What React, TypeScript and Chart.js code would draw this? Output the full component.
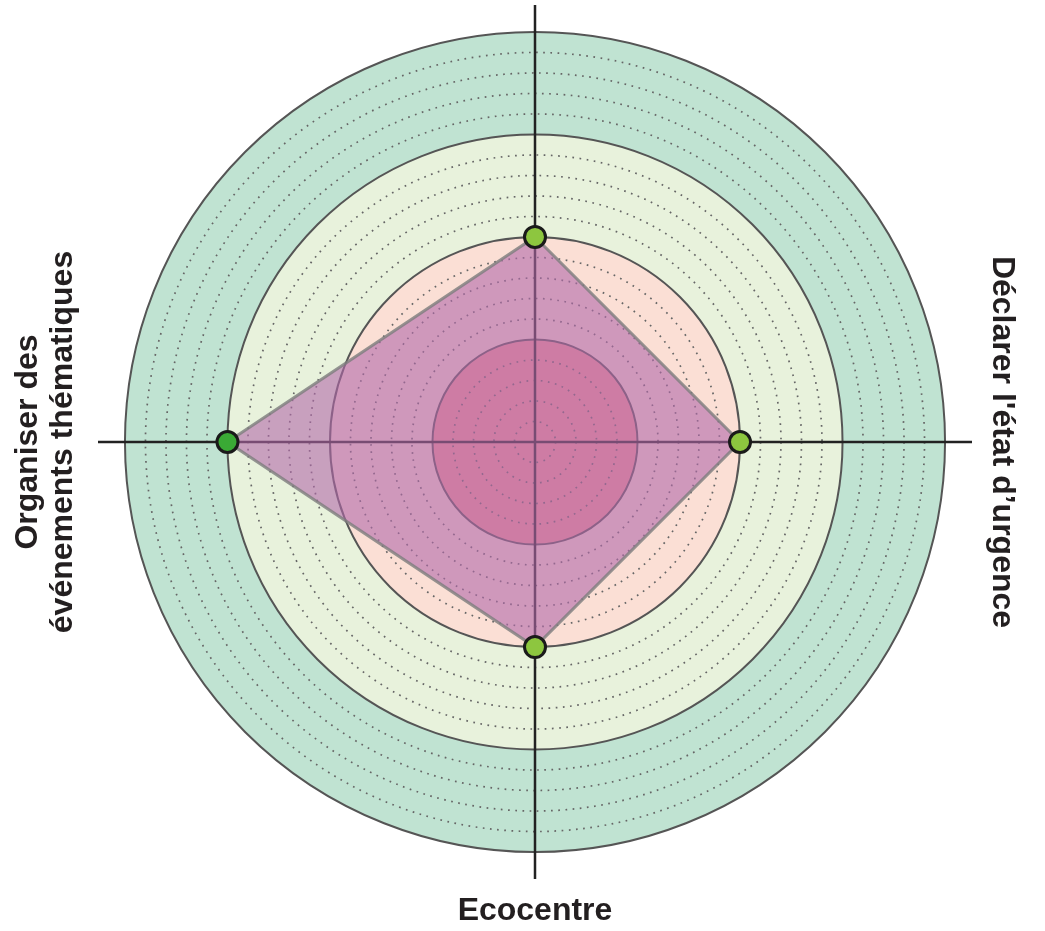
import React, { useEffect, useRef } from "react";
import { Chart, registerables } from "chart.js";

Chart.register(...registerables);

const axisLabels: (string | string[])[] = [
  "",
  "Déclarer l'état d’urgence",
  "Ecocentre",
  ["Organiser des", "événements thématiques"],
];
const scoreValues = [2, 2, 2, 3];
const pointColors = ["#8dc63f", "#8dc63f", "#8dc63f", "#3aaa35"];
const bandLimits = [4, 3, 2, 1];
const bandColors = ["#c0e3d2", "#e8f2dc", "#fbdfd5", "#f79a9c"];
const scaleMaxValue = 4;
const axisOverhang = 4.263;
const gridStep = 0.2;

const bandsPlugin = {
  id: "bands",
  beforeDraw(chart: any) {
    const scale = chart.scales.r;
    const ctx = chart.ctx;
    ctx.save();
    bandLimits.forEach((v, i) => {
      const r = scale.getDistanceFromCenterForValue(v);
      ctx.beginPath();
      ctx.arc(scale.xCenter, scale.yCenter, r, 0, Math.PI * 2);
      ctx.fillStyle = bandColors[i];
      ctx.fill();
    });
    ctx.restore();
  },
};

const labelsPlugin = {
  id: "axisTitles",
  afterDraw(chart: any) {
    const scale = chart.scales.r;
    const ctx = chart.ctx;
    const cx = scale.xCenter;
    const cy = scale.yCenter;
    const R = scale.drawingArea;
    ctx.save();
    ctx.fillStyle = "#231f20";
    ctx.font = "bold 32px 'Liberation Sans', Arial, sans-serif";
    ctx.textAlign = "center";
    ctx.textBaseline = "alphabetic";
    const right = axisLabels[1];
    ctx.save();
    ctx.translate(cx + R + 21, cy);
    ctx.rotate(Math.PI / 2);
    (Array.isArray(right) ? right : [right]).forEach((t, i) => ctx.fillText(t, 0, -i * 35));
    ctx.restore();
    const bottom = axisLabels[2];
    (Array.isArray(bottom) ? bottom : [bottom]).forEach((t, i) =>
      ctx.fillText(t, cx, cy + R + 41 + i * 35)
    );
    const left = axisLabels[3];
    const lines = Array.isArray(left) ? left : [left];
    ctx.save();
    ctx.translate(cx - R - 61, cy);
    ctx.rotate(-Math.PI / 2);
    lines.forEach((t, i) => ctx.fillText(t, 0, i * 35));
    ctx.restore();
    ctx.restore();
  },
};

export default function App() {
  const ref = useRef<HTMLCanvasElement>(null);
  useEffect(() => {
    if (!ref.current) return;
    const chart = new Chart(ref.current, {
      type: "radar",
      data: {
        labels: axisLabels as any,
        datasets: [
          {
            data: scoreValues,
            fill: true,
            backgroundColor: "rgba(178,105,170,0.6)",
            borderColor: "rgba(125,125,125,0.8)",
            borderWidth: 3,
            pointBackgroundColor: pointColors,
            pointBorderColor: "#1a1a1a",
            pointBorderWidth: 3,
            pointRadius: 10.5,
            pointHoverRadius: 10.5,
          },
        ],
      },
      options: {
        responsive: false,
        animation: false,
        events: [],
        layout: { padding: { left: 98, right: 73, top: 5, bottom: 52 } },
        plugins: { legend: { display: false }, tooltip: { enabled: false } },
        scales: {
          r: {
            min: 0,
            max: axisOverhang,
            ticks: { display: false, stepSize: gridStep },
            pointLabels: { display: false },
            grid: {
              circular: true,
              color: (ctx: any) => {
                const v = ctx.tick ? ctx.tick.value : 0;
                if (v > scaleMaxValue + 1e-6) return "rgba(0,0,0,0)";
                return Math.abs(v - Math.round(v)) < 1e-6 ? "#555555" : "#666666";
              },
              lineWidth: (ctx: any) => {
                const v = ctx.tick ? ctx.tick.value : 0;
                return Math.abs(v - Math.round(v)) < 1e-6 ? 2 : 1.7;
              },
            },
            border: {
              dash: (ctx: any) => {
                const v = ctx.tick ? ctx.tick.value : 0;
                return Math.abs(v - Math.round(v)) < 1e-6 ? [] : [1.7, 5.5];
              },
            } as any,
            angleLines: { color: "#222222", lineWidth: 2.5 },
          },
        },
      },
      plugins: [bandsPlugin, labelsPlugin],
    });
    return () => chart.destroy();
  }, []);
  return (
    <div style={{ position: "absolute", left: 0, top: 0, width: 1045, height: 931, background: "#fff" }}>
      <canvas ref={ref} width={1045} height={931} style={{ width: 1045, height: 931, display: "block" }} />
    </div>
  );
}
